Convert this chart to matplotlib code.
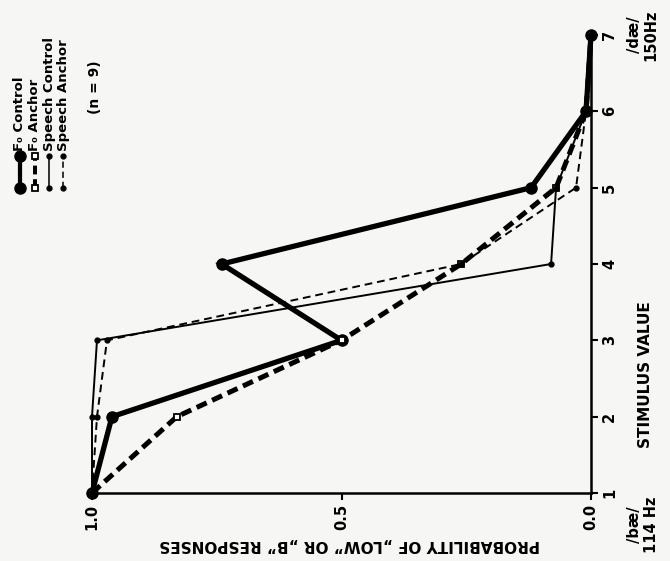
import matplotlib.pyplot as plt
from matplotlib.lines import Line2D

# stimulus continuum /bae/ (114 Hz) .. /dae/ (150 Hz)
stimulus = [1, 2, 3, 4, 5, 6, 7]
prob_ticks = [1.0, 0.5, 0.0]
prob_labels = ['1.0', '0.5', '0.0']

# probability of "low" or "b" responses, n = 9
f0_control = [1.0, 0.96, 0.50, 0.74, 0.12, 0.01, 0.0]
f0_anchor = [1.0, 0.83, 0.50, 0.26, 0.07, 0.01, 0.0]
speech_control = [1.0, 1.0, 0.99, 0.08, 0.07, 0.01, 0.0]
speech_anchor = [1.0, 0.99, 0.97, 0.26, 0.03, 0.01, 0.0]

plt.rcParams['font.family'] = ['DejaVu Sans']
plt.rcParams['font.weight'] = 'bold'

fig = plt.figure(figsize=(6.7, 5.61), dpi=100, facecolor='#f6f6f4')
ax = fig.add_axes([92 / 670, 1 - 493 / 561, (591 - 92) / 670, (493 - 35) / 561])
ax.set_facecolor('none')

# the page is turned on its side: probability runs across, stimulus runs up
styles = [
    (f0_control, dict(color='black', lw=3.8, ls='-', marker='o', ms=8,
                      mfc='black', mec='black')),
    (f0_anchor, dict(color='black', lw=3.6, ls=(0, (2.2, 1.2)), marker='s', ms=5,
                     mfc='white', mec='black', mew=1.3)),
    (speech_control, dict(color='black', lw=1.4, ls='-', marker='o', ms=3.5,
                          mfc='black', mec='black')),
    (speech_anchor, dict(color='black', lw=1.4, ls=(0, (4, 2.5)), marker='o', ms=3.5,
                         mfc='black', mec='black')),
]
for values, kw in styles:
    ax.plot(values, stimulus, clip_on=False, solid_joinstyle='miter', **kw)

ax.set_xlim(1.0, 0.0)
ax.set_ylim(1, 7)
for side in ('top', 'left'):
    ax.spines[side].set_visible(False)
for side in ('bottom', 'right'):
    ax.spines[side].set_linewidth(1.8)

ax.yaxis.tick_right()
ax.set_yticks(stimulus)
ax.set_yticklabels([str(s) for s in stimulus], rotation=90, va='center', fontsize=10.5)
ax.set_xticks(prob_ticks)
ax.set_xticklabels(prob_labels, rotation=90, ha='center', fontsize=10.5)
ax.tick_params(axis='both', length=5, width=1.5, direction='out', pad=3)

fig.text(350 / 670, 1 - 545 / 561, 'PROBABILITY OF \u201eLOW\u201d OR \u201eB\u201d RESPONSES',
         rotation=180, ha='center', va='center', fontsize=11)
fig.text(645 / 670, 1 - 375 / 561, 'STIMULUS VALUE', rotation=90,
         ha='center', va='center', fontsize=11)
fig.text(643 / 670, 1 - 525 / 561, '/b\u00e6/\n114 Hz', rotation=90,
         ha='center', va='center', fontsize=10.5, linespacing=1.1)
fig.text(643 / 670, 1 - 35 / 561, '/d\u00e6/\n150Hz', rotation=90,
         ha='center', va='center', fontsize=10.5, linespacing=1.1)

# hand-made key, written sideways like the rest of the page
key = [
    ('F\u2080 Control', styles[0][1]),
    ('F\u2080 Anchor', styles[1][1]),
    ('Speech Control', styles[2][1]),
    ('Speech Anchor', styles[3][1]),
]
for i, (label, kw) in enumerate(key):
    x = (20 + i * 14.5) / 670
    y0, y1 = 1 - 188 / 561, 1 - 156 / 561
    line = Line2D([x, x], [y0, y1], transform=fig.transFigure,
                  markevery=[0, 1], **dict(kw, lw=kw['lw'] * 0.8))
    fig.add_artist(line)
    fig.text(x, 1 - 151 / 561, label, rotation=90, ha='center', va='bottom',
             fontsize=9.5)
fig.text(95 / 670, 1 - 87 / 561, '(n = 9)', rotation=90, ha='center',
         va='center', fontsize=10)

fig.savefig('out.png', dpi=100, facecolor=fig.get_facecolor())
